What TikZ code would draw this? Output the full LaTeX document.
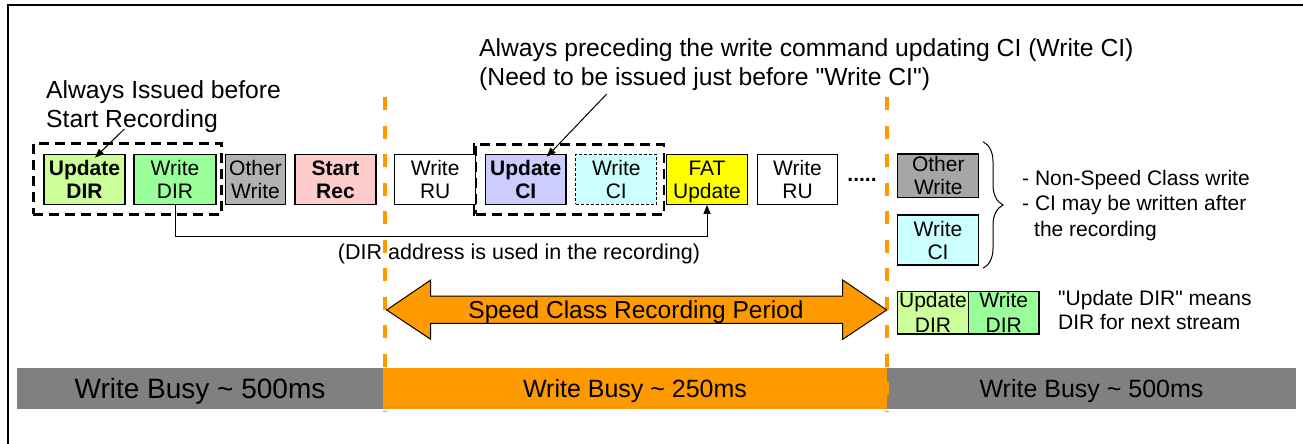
\documentclass[tikz,border=0pt]{standalone}
\usepackage{fontspec}
\setmainfont{Liberation Sans}
\usetikzlibrary{arrows.meta,decorations.pathreplacing,calc}
\definecolor{cUdir}{HTML}{CCFF99}
\definecolor{cWdir}{HTML}{99FF99}
\definecolor{cOther}{HTML}{B2B2B2}
\definecolor{cOtherB}{HTML}{A6A6A6}
\definecolor{cStart}{HTML}{FFCCCC}
\definecolor{cUci}{HTML}{CCCCFF}
\definecolor{cWci}{HTML}{CCFFFF}
\definecolor{cFat}{HTML}{FFFF00}
\definecolor{cOrange}{HTML}{FF9900}
\definecolor{cBar}{HTML}{808080}
\begin{document}
\begin{tikzpicture}[x=1pt,y=-1pt,
  box/.style={draw=black,line width=1.2pt,minimum height=50pt,inner sep=0pt,align=center,text depth=0pt,font=\fontsize{21}{23}\selectfont},
  boldbox/.style={box,font=\fontsize{21}{23}\selectfont\bfseries},
  smallbox/.style={box,minimum height=42.3pt,minimum width=70.7pt,font=\fontsize{21}{25}\selectfont},
  group/.style={draw=black,line width=2.5pt,dash pattern=on 10pt off 6pt,inner sep=0pt},
  lbl/.style={inner sep=0pt,anchor=base west},
  ann/.style={lbl,font=\fontsize{24.7}{29}\selectfont},
  note/.style={lbl,font=\fontsize{21}{25}\selectfont},
  pointer/.style={line width=1pt,-{Triangle[length=9pt,width=7pt]}},
  period/.style={draw=cOrange,line width=4.5pt,dash pattern=on 13pt off 15.5pt},
  bar/.style={inner sep=0pt,minimum height=40.7pt,text depth=0pt},
]
\useasboundingbox (0,0) rectangle (1303,444);
\fill[white] (0,0) rectangle (1303,444);

% frame
\draw[line width=2pt] (8,444) -- (8,5) -- (1303,5);

% busy bars
\node[bar,fill=cBar,minimum width=366pt,font=\fontsize{28}{30}\selectfont] (bar1) at (200,388.3) {Write Busy \textasciitilde{} 500ms};
\node[bar,fill=cOrange,minimum width=504pt,font=\fontsize{25}{28}\selectfont] (bar2) at (635,388.3) {Write Busy \textasciitilde{} 250ms};
\node[bar,fill=cBar,minimum width=409pt,font=\fontsize{25}{28}\selectfont] (bar3) at (1091.5,388.3) {Write Busy \textasciitilde{} 500ms};

% period boundaries
\coordinate (l1a) at (385,97);
\coordinate (l1b) at (385,412);
\coordinate (l2a) at (887,97);
\coordinate (l2b) at (887,412);
\draw[period] (l1a) -- (l1b);
\draw[period] (l2a) -- (l2b);

% speed class double arrow
\filldraw[fill=cOrange,draw=black,line width=1pt]
  (386.7,310) -- (430.7,280) -- (430.7,296) -- (842.7,296) -- (842.7,280) -- (886.7,310)
  -- (842.7,339.3) -- (842.7,323.3) -- (430.7,323.3) -- (430.7,339.3) -- cycle;
\node[inner sep=0pt,text depth=0pt,font=\fontsize{24.5}{28}\selectfont] (scp) at (636,310) {Speed Class Recording Period};

% group boxes
\node[group,minimum width=188.4pt,minimum height=71pt] (g1) at (127.5,178.8) {};
\node[group,minimum width=188.3pt,minimum height=70pt] (g2) at (569.85,179.3) {};
\draw[line width=2pt] (g2.north west) -- (g2.south west);

% command boxes
\node[boldbox,fill=cUdir,minimum width=81pt] (udir) at (84.5,179.3) {Update\\DIR};
\node[box,fill=cWdir,minimum width=82pt] (wdir) at (175,179.3) {Write\\DIR};
\node[box,fill=cOther,minimum width=60pt] (ow) at (255.5,179.3) {Other\\Write};
\node[boldbox,fill=cStart,minimum width=81pt] (srec) at (335.5,179.3) {Start\\Rec};
\node[box,fill=white,minimum width=81pt] (wru1) at (435.2,179.3) {Write\\RU};
\node[boldbox,fill=cUci,minimum width=80.3pt] (uci) at (525.8,179.3) {Update\\CI};
\node[box,fill=cWci,minimum width=80.7pt,line width=1pt,dash pattern=on 3pt off 2pt] (wci) at (616.3,179.3) {Write\\CI};
\node[box,fill=cFat,minimum width=80.6pt] (fat) at (707,179.3) {FAT\\Update};
\node[box,fill=white,minimum width=80.4pt] (wru2) at (797.5,179.3) {Write\\RU};
\node[inner sep=0pt,text depth=0pt,font=\fontsize{21}{23}\selectfont\bfseries] (dots) at (862,180) {.....};

% DIR address connector
\draw[pointer] (wdir.south) -- ++(0,32) -| (fat.south);
\node[inner sep=0pt,text depth=0pt,font=\fontsize{21.5}{24}\selectfont] (dirlbl) at (519,252) {(DIR address is used in the recording)};

% annotations
\node[ann] (t1a) at (46,98) {Always Issued before};
\node[ann] (t1b) at (46,127) {Start Recording};
\coordinate (p1) at (124.3,129);
\draw[pointer] (p1) -- ($(udir.north)+(10.5,4)$);

\node[ann] (t2a) at (479,56.7) {Always preceding the write command updating CI (Write CI)};
\node[ann] (t2b) at (479,85) {(Need to be issued just before \textquotedbl Write CI\textquotedbl)};
\coordinate (p2) at (606.7,94);
\draw[pointer] (p2) -- ($(uci.north)+(21,3)$);

% right side
\node[box,fill=cOtherB,minimum width=81pt,minimum height=43.3pt] (ow2) at (938.3,175.7) {Other\\Write};
\node[box,fill=cWci,minimum width=81pt] (wci2) at (938,240) {Write\\CI};
\draw[decorate,decoration={brace,amplitude=20pt},line width=1pt] (983,141.7) -- (983,268.3);
\node[note] (n1) at (1022,185) {- Non-Speed Class write};
\node[note] (n2) at (1022,210) {- CI may be written after};
\node[note] (n3) at (1034,236.7) {the recording};

\node[smallbox,fill=cUdir] (udir2) at (933,312.8) {Update\\DIR};
\node[smallbox,fill=cWdir] (wdir2) at (1003.7,312.8) {Write\\DIR};
\node[note] (n4) at (1058,305) {\textquotedbl Update DIR\textquotedbl{} means};
\node[note] (n5) at (1058,329.3) {DIR for next stream};
\end{tikzpicture}
\end{document}
